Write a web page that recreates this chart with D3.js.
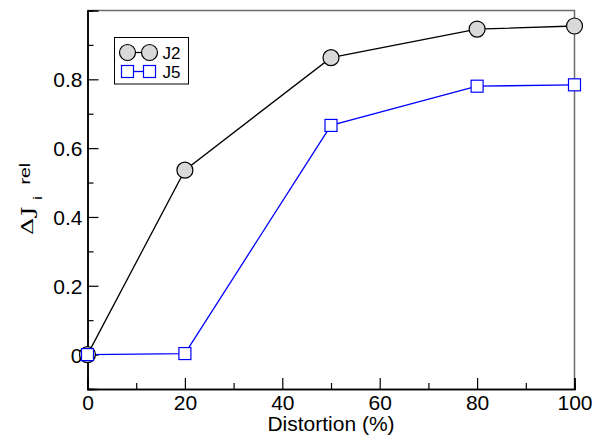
<!DOCTYPE html>
<html>
<head>
<meta charset="utf-8">
<script src="https://cdn.jsdelivr.net/npm/d3@7"></script>
<style>
  body { margin: 0; background: #fff; }
  svg { font-family: "Liberation Sans", Arial, Helvetica, sans-serif; }
</style>
</head>
<body>
<div id="chart"></div>
<script>
// 數據
const distortion = [0, 20, 50, 80, 100];
const j2Values = [0, 0.536, 0.863, 0.946, 0.955];
const j5Values = [0, 0.003, 0.666, 0.780, 0.784];
const xTicks = [0, 20, 40, 60, 80, 100];
const xMinorTicks = [10, 30, 50, 70, 90];
const yTicks = [0, 0.2, 0.4, 0.6, 0.8];
const yMinorTicks = [-0.1, 0.1, 0.3, 0.5, 0.7, 0.9];

const width = 602, height = 438;
const margin = { top: 10.5, right: 27.5, bottom: 49, left: 87.5 };

const svg = d3.select("#chart").append("svg")
    .attr("width", width)
    .attr("height", height);

const x = d3.scaleLinear().domain([0, 100]).range([margin.left, width - margin.right]);
const y = d3.scaleLinear().domain([-0.1, 1.0]).range([height - margin.bottom, margin.top]);

// 外框 (上、右為灰色)
svg.append("path")
    .attr("d", `M${x(0)},${y(1)} H${x(100)} V${y(-0.1)}`)
    .attr("fill", "none")
    .attr("stroke", "#6e6e6e")
    .attr("stroke-width", 1.5);

// X軸
const xAxis = svg.append("g")
    .attr("transform", `translate(0,${y(-0.1)})`);
xAxis.call(d3.axisBottom(x).tickValues(xTicks).tickSize(-11).tickFormat(d3.format("d")));
xAxis.append("g").call(d3.axisBottom(x).tickValues(xMinorTicks).tickSize(-6).tickFormat(""));

// Y軸
const yAxis = svg.append("g")
    .attr("transform", `translate(${x(0)},0)`);
yAxis.call(d3.axisLeft(y).tickValues(yTicks).tickSize(-11)
    .tickFormat(d => d === 0 ? "0" : d3.format(".1f")(d)));
yAxis.append("g").call(d3.axisLeft(y).tickValues(yMinorTicks).tickSize(-6).tickFormat(""));

svg.selectAll(".domain").attr("stroke", "#000").attr("stroke-width", 1.5);
svg.selectAll(".tick line").attr("stroke", "#000").attr("stroke-width", 1.2);
svg.selectAll(".tick text").attr("font-size", "21px").attr("fill", "#000")
    .attr("font-family", "Liberation Sans, Arial, sans-serif");
xAxis.selectAll(".tick text").attr("y", 21).attr("dy", 0);
yAxis.selectAll(".tick text").attr("x", -5).attr("dy", "0.36em");

// 軸標籤
svg.append("text")
    .attr("x", x(50))
    .attr("y", 431)
    .attr("text-anchor", "middle")
    .attr("font-size", "21px")
    .text("Distortion (%)");

// Y軸標籤 ΔJ_i^rel
const yLabel = svg.append("text")
    .attr("transform", "translate(33,235) rotate(-90) scale(1.4,1)")
    .attr("text-anchor", "start");
yLabel.append("tspan").attr("x", 0).attr("y", 0)
    .attr("font-family", "DejaVu Serif, serif").attr("font-size", "17px").text("Δ");
yLabel.append("tspan").attr("x", 13.5).attr("y", 0)
    .attr("font-family", "DejaVu Serif, serif").attr("font-size", "17px").text("J");
yLabel.append("tspan").attr("x", 25).attr("y", 9)
    .attr("font-size", "13px").text("i");
yLabel.append("tspan").attr("x", 36).attr("y", -3)
    .attr("font-size", "14px").text("rel");

// 數據線
const j2Data = distortion.map((d, i) => ({ x: d, y: j2Values[i] }));
const j5Data = distortion.map((d, i) => ({ x: d, y: j5Values[i] }));
const line = d3.line().x(d => x(d.x)).y(d => y(d.y));

svg.append("path")
    .datum(j2Data)
    .attr("d", line)
    .attr("fill", "none")
    .attr("stroke", "#000")
    .attr("stroke-width", 1.3);

svg.append("path")
    .datum(j5Data)
    .attr("d", line)
    .attr("fill", "none")
    .attr("stroke", "#0000ff")
    .attr("stroke-width", 1.3);

svg.selectAll(".j2-pt")
    .data(j2Data)
    .enter()
    .append("circle")
    .attr("class", "j2-pt")
    .attr("cx", d => x(d.x))
    .attr("cy", d => y(d.y))
    .attr("r", 8)
    .attr("fill", "#d9d9d9")
    .attr("stroke", "#000")
    .attr("stroke-width", 1.2);

svg.selectAll(".j5-pt")
    .data(j5Data)
    .enter()
    .append("rect")
    .attr("class", "j5-pt")
    .attr("x", d => x(d.x) - 6)
    .attr("y", d => y(d.y) - 6)
    .attr("width", 12)
    .attr("height", 12)
    .attr("fill", "#fff")
    .attr("stroke", "#0000ff")
    .attr("stroke-width", 1.2);

// 圖例
const legend = svg.append("g").attr("transform", "translate(114.5,37.5)");
legend.append("rect")
    .attr("width", 74)
    .attr("height", 46.5)
    .attr("fill", "#fff")
    .attr("stroke", "#000")
    .attr("stroke-width", 1);

const l1 = legend.append("g").attr("transform", "translate(0,15)");
l1.append("line").attr("x1", 13).attr("x2", 35).attr("stroke", "#000").attr("stroke-width", 1.3);
[13, 35].forEach(cx => l1.append("circle").attr("cx", cx).attr("r", 8)
    .attr("fill", "#d9d9d9").attr("stroke", "#000").attr("stroke-width", 1.2));
l1.append("text").attr("x", 48).attr("y", 6.5).attr("font-size", "17px").text("J2");

const l2 = legend.append("g").attr("transform", "translate(0,34)");
l2.append("line").attr("x1", 13).attr("x2", 35).attr("stroke", "#0000ff").attr("stroke-width", 1.3);
[13, 35].forEach(cx => l2.append("rect").attr("x", cx - 6).attr("y", -6).attr("width", 12).attr("height", 12)
    .attr("fill", "#fff").attr("stroke", "#0000ff").attr("stroke-width", 1.2));
l2.append("text").attr("x", 48).attr("y", 6.5).attr("font-size", "17px").text("J5");
</script>
</body>
</html>
